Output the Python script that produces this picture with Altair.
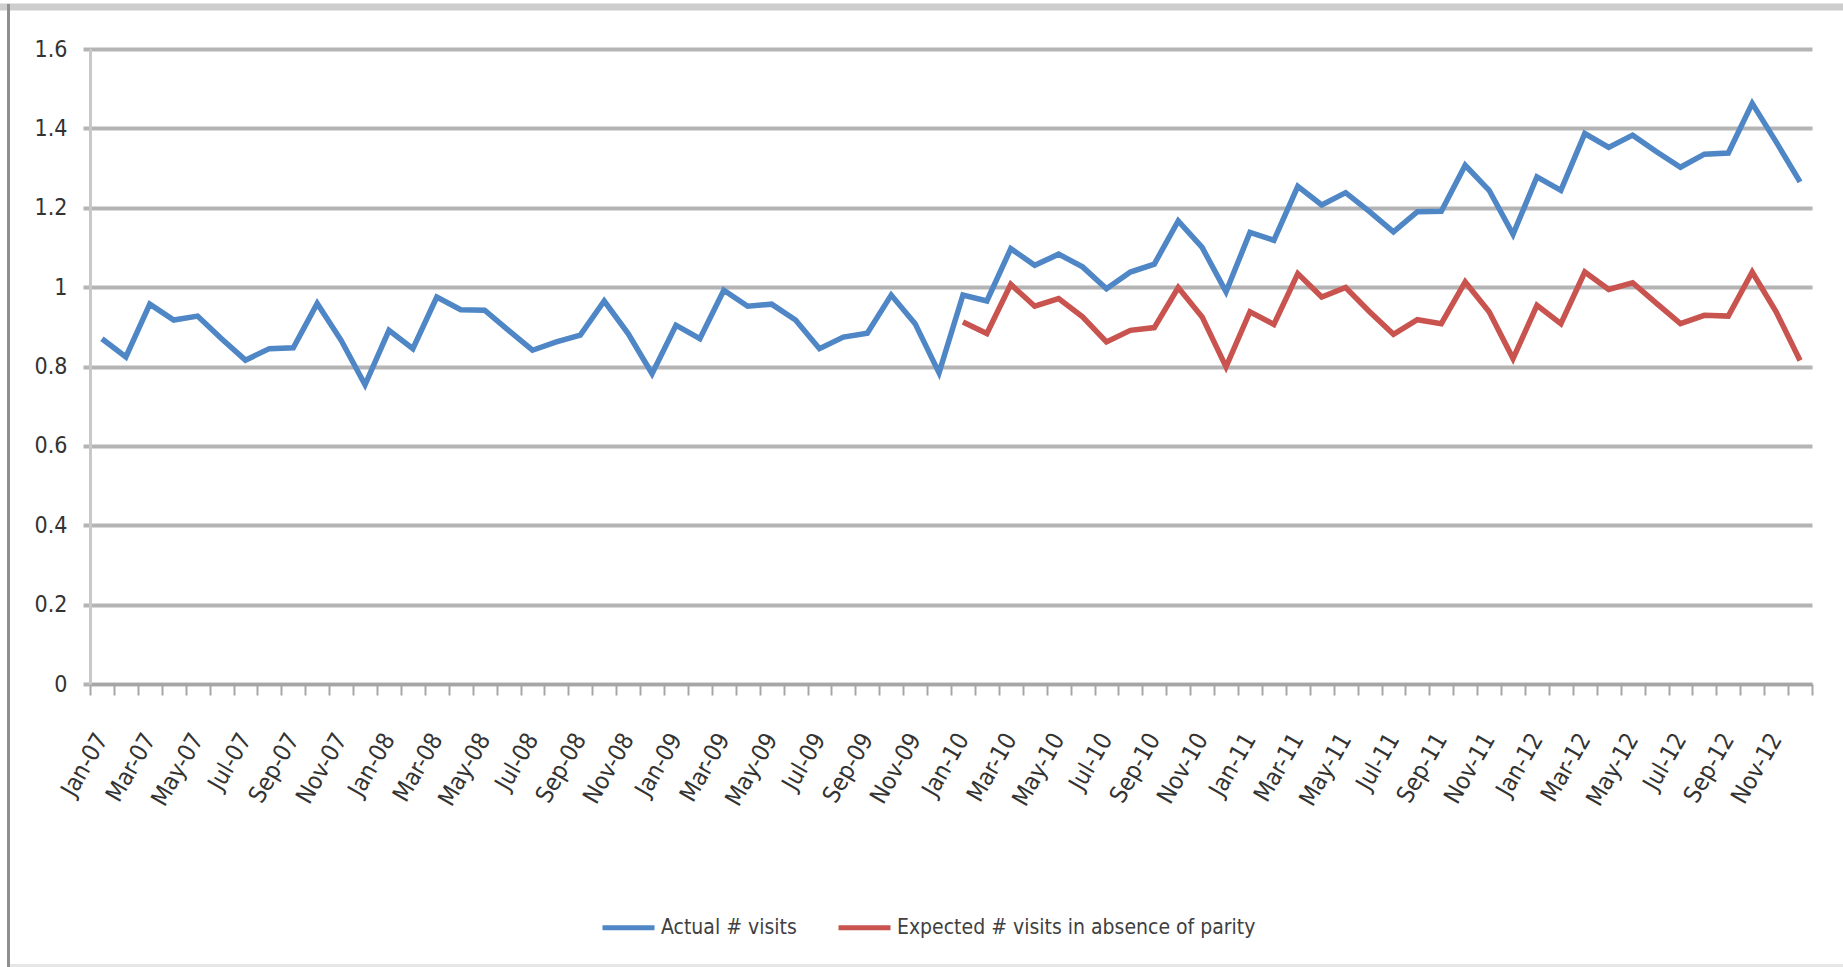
import altair as alt
import pandas as pd

# Month categories Jan-07 .. Dec-12
MONTH_NAMES = ["Jan", "Feb", "Mar", "Apr", "May", "Jun",
               "Jul", "Aug", "Sep", "Oct", "Nov", "Dec"]
months = [f"{m}-{y:02d}" for y in range(7, 13) for m in MONTH_NAMES]

# Actual number of visits, Jan-07 .. Dec-12
actual_visits = [
    0.870, 0.824, 0.957, 0.917, 0.927, 0.870, 0.816, 0.845, 0.847, 0.959, 0.866, 0.754,
    0.891, 0.845, 0.975, 0.943, 0.942, 0.891, 0.841, 0.862, 0.879, 0.965, 0.883, 0.782,
    0.904, 0.870, 0.992, 0.952, 0.957, 0.917, 0.845, 0.874, 0.884, 0.980, 0.908, 0.784,
    0.980, 0.965, 1.097, 1.055, 1.083, 1.051, 0.996, 1.038, 1.058, 1.167, 1.100, 0.988,
    1.138, 1.118, 1.254, 1.207, 1.238, 1.190, 1.139, 1.190, 1.191, 1.307, 1.244, 1.133,
    1.278, 1.244, 1.387, 1.352, 1.383, 1.341, 1.302, 1.335, 1.338, 1.463, 1.366, 1.265,
]

# Expected number of visits in absence of parity, Jan-10 .. Dec-12
expected_start = "Jan-10"
expected_visits = [
    0.912, 0.883, 1.007, 0.952, 0.971, 0.925, 0.862, 0.891, 0.898, 0.999, 0.925, 0.799,
    0.938, 0.906, 1.034, 0.975, 0.999, 0.938, 0.881, 0.918, 0.908, 1.013, 0.938, 0.820,
    0.954, 0.908, 1.038, 0.994, 1.011, 0.959, 0.908, 0.929, 0.927, 1.038, 0.938, 0.815,
]

y_ticks = [0, 0.2, 0.4, 0.6, 0.8, 1.0, 1.2, 1.4, 1.6]

SERIES = ["Actual # visits", "Expected # visits in absence of parity"]
COLORS = ["#4F86C6", "#C8534F"]

rows = []
for i, (m, v) in enumerate(zip(months, actual_visits)):
    rows.append({"month": m, "idx": i, "value": v, "series": SERIES[0]})
start = months.index(expected_start)
for j, v in enumerate(expected_visits):
    rows.append({"month": months[start + j], "idx": start + j, "value": v,
                 "series": SERIES[1]})
df = pd.DataFrame(rows)
# category axis: each month sits in the middle of its slot
df["slot"] = df["idx"] + 0.5

n = len(months)
W, H = 1722, 635
band = W / n

FONT = "Liberation Sans Narrow, Arial Narrow, DejaVu Sans Condensed, Liberation Sans, sans-serif"
label_array = "[" + ",".join(f"'{m}'" for m in months) + "]"
x_label_expr = (f"(datum.value % 2 == 0 && datum.value < {n}) ? "
                f"{label_array}[datum.value] : ''")

lines = alt.Chart(df).mark_line(strokeWidth=5.5, strokeJoin="miter").encode(
    x=alt.X(
        "slot:Q",
        scale=alt.Scale(domain=[0, n], nice=False, zero=False),
        axis=alt.Axis(
            values=list(range(n + 1)),
            labelExpr=x_label_expr,
            labelAngle=-60,
            labelAlign="right",
            labelBaseline="middle",
            labelOffset=band / 2,
            labelPadding=40,
            labelOverlap=False,
            labelFlush=False,
            labelFont=FONT,
            labelFontSize=24,
            labelColor="#333333",
            tickSize=11,
            tickWidth=2,
            tickColor="#a6a6a6",
            domainColor="#a6a6a6",
            domainWidth=3,
            grid=False,
            title=None,
        ),
    ),
    y=alt.Y(
        "value:Q",
        scale=alt.Scale(domain=[0, 1.6], nice=False),
        axis=alt.Axis(
            values=y_ticks,
            format=".1~f",
            grid=True,
            gridColor="#b4b4b4",
            gridWidth=4,
            tickSize=7,
            tickWidth=4,
            tickColor="#b4b4b4",
            domainColor="#c8c8c8",
            domainWidth=3,
            labelPadding=16,
            labelFont=FONT,
            labelFontSize=23,
            labelColor="#333333",
            title=None,
        ),
    ),
    color=alt.Color(
        "series:N",
        scale=alt.Scale(domain=SERIES, range=COLORS),
        legend=alt.Legend(
            orient="none",
            legendX=510,
            legendY=850,
            direction="horizontal",
            title=None,
            symbolType="stroke",
            symbolSize=2704,
            symbolStrokeWidth=5,
            labelFont=FONT,
            labelFontSize=21,
            labelColor="#404040",
            labelOffset=4,
            labelLimit=0,
            columnPadding=31,
        ),
    ),
    detail="series:N",
)

# chart frame (outer border)
frame_data = alt.Data(values=[{"f": 0}])
frame_top = alt.Chart(frame_data).mark_rule(color="#cdcdcd", strokeWidth=7).encode(
    x=alt.value(-90), x2=alt.value(1753), y=alt.value(-42))
frame_left = alt.Chart(frame_data).mark_rule(color="#8f8f8f", strokeWidth=3).encode(
    x=alt.value(-81.5), y=alt.value(-45), y2=alt.value(918))
frame_bottom = alt.Chart(frame_data).mark_rule(color="#e6e6e6", strokeWidth=3).encode(
    x=alt.value(-80), x2=alt.value(1753), y=alt.value(916.5))

chart = alt.layer(frame_top, frame_left, frame_bottom, lines).properties(
    width=W,
    height=H,
    autosize=alt.AutoSizeParams(type="none"),
    padding={"left": 90, "top": 49, "right": 31, "bottom": 283},
    background="white",
).configure_view(strokeWidth=0)

chart.save("out.html", embed_options={"renderer": "svg", "actions": False})
